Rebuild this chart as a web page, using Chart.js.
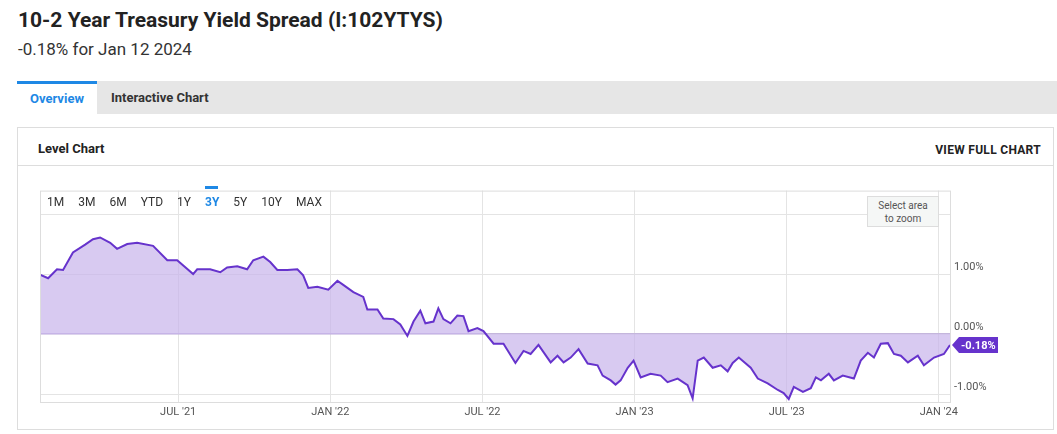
<!DOCTYPE html>
<html><head><meta charset="utf-8">
<script src="https://cdn.jsdelivr.net/npm/chart.js@4"></script>
<style>
body{margin:0;width:1057px;height:434px;font-family:Roboto,sans-serif;background:#fff;position:relative;overflow:hidden;color:#222}
.abs{position:absolute}
#title{left:18px;top:8px;font-size:21px;font-weight:bold;color:#222}
#sub{left:18px;top:39px;font-size:17px;color:#333}
#tabs{left:17px;top:81px;width:1040px;height:33px;background:#e6e6e6}
#ov{left:17px;top:81px;width:80px;height:33px;background:#fff;border-top:3px solid #1e88e5;box-sizing:border-box;color:#1e88e5;font-size:13px;font-weight:bold;text-align:center;line-height:29px}
#ic{left:111px;top:81px;font-size:13px;font-weight:bold;line-height:33px;color:#333}
#card{left:17px;top:127px;width:1037px;height:303px;border:1px solid #ddd;box-sizing:border-box}
#lc{left:38px;top:141px;font-size:13px;font-weight:bold}
#vf{right:16px;top:143px;font-size:12px;font-weight:bold;letter-spacing:.3px}
#sep{left:18px;top:165px;width:1035px;height:1px;background:#ddd}
#btns{left:47px;top:195px;font-size:12px;color:#333}
#btns span{margin-right:14px}
#zoom{left:867px;top:196px;width:72px;height:31px;background:#f5f7f6;border:1px solid #ddd;font-size:10px;color:#555;text-align:center;line-height:13px;padding-top:2px;box-sizing:border-box}
</style></head><body>
<div id="title" class="abs">10-2 Year Treasury Yield Spread (I:102YTYS)</div>
<div id="sub" class="abs">-0.18% for Jan 12 2024</div>
<div id="tabs" class="abs"></div>
<div id="ov" class="abs">Overview</div>
<div id="ic" class="abs">Interactive Chart</div>
<div id="card" class="abs"></div>
<div id="lc" class="abs">Level Chart</div>
<div id="vf" class="abs">VIEW FULL CHART</div>
<div id="sep" class="abs"></div>
<canvas id="c" class="abs" width="970" height="240" style="left:30px;top:180px;width:970px;height:240px"></canvas>
<div id="btns" class="abs"><span>1M</span><span>3M</span><span>6M</span><span>YTD</span><span>1Y</span><span style="color:#1e88e5;position:relative;font-weight:bold">3Y<i style="position:absolute;left:0;top:-9px;width:13px;height:3px;background:#1e88e5"></i></span><span>5Y</span><span>10Y</span><span>MAX</span></div>
<div id="zoom" class="abs">Select area<br>to zoom</div>
<script>
// x = months since Jan 1 2021
const months=[0.55,0.87,1.22,1.46,1.85,2.33,2.64,2.92,3.32,3.59,3.99,4.38,5.01,5.57,5.96,6.59,6.75,7.26,7.66,7.93,8.33,8.72,8.96,9.36,9.63,9.91,10.3,10.7,10.93,11.13,11.49,11.92,12.28,12.51,12.91,13.3,13.46,13.86,14.09,14.49,14.76,15.04,15.28,15.55,15.75,16.07,16.26,16.46,16.74,17.01,17.25,17.45,17.8,18.04,18.44,18.83,19.3,19.62,19.9,20.21,20.69,20.96,21.2,21.48,21.79,22.15,22.54,22.74,23.06,23.25,23.45,23.73,23.96,24.24,24.63,25.03,25.3,25.7,26.09,26.29,26.49,26.73,27.08,27.4,27.67,27.87,28.11,28.58,28.86,29.25,29.65,29.88,30.08,30.28,30.64,30.95,31.15,31.35,31.66,31.86,32.21,32.65,32.92,33.2,33.44,33.71,33.99,34.23,34.5,34.78,35.17,35.41,35.81,36.2,36.44];
const spread=[0.99,0.93,1.08,1.07,1.36,1.49,1.58,1.61,1.52,1.42,1.5,1.52,1.47,1.23,1.23,1.0,1.08,1.08,1.03,1.11,1.13,1.08,1.23,1.29,1.2,1.07,1.07,1.08,0.98,0.77,0.79,0.74,0.89,0.82,0.7,0.62,0.41,0.41,0.26,0.25,0.16,-0.03,0.21,0.39,0.18,0.21,0.43,0.25,0.18,0.31,0.3,0.05,0.1,0.05,-0.16,-0.16,-0.48,-0.28,-0.33,-0.18,-0.47,-0.36,-0.47,-0.39,-0.25,-0.49,-0.52,-0.69,-0.77,-0.84,-0.77,-0.56,-0.44,-0.72,-0.66,-0.69,-0.8,-0.74,-0.85,-1.07,-0.44,-0.39,-0.56,-0.52,-0.62,-0.48,-0.39,-0.56,-0.74,-0.82,-0.93,-0.98,-1.08,-0.88,-0.96,-0.9,-0.72,-0.77,-0.66,-0.77,-0.69,-0.74,-0.44,-0.31,-0.39,-0.16,-0.15,-0.33,-0.36,-0.47,-0.36,-0.52,-0.39,-0.33,-0.18];
const xTicks={6:"JUL '21",12:"JAN '22",18:"JUL '22",24:"JAN '23",30:"JUL '23",36:"JAN '24"};
const yTicks={1:"1.00%",0:"0.00%","-1":"-1.00%"};
const lastLabel="-0.18%";
const tag={id:'tag',afterDraw(ch){const c=ch.ctx,y=ch.scales.y.getPixelForValue(spread[spread.length-1]),x=ch.chartArea.right+2;
c.save();c.fillStyle='#6633cc';c.beginPath();c.moveTo(x,y);c.lineTo(x+7,y-8);c.lineTo(x+46,y-8);c.lineTo(x+46,y+8);c.lineTo(x+7,y+8);c.closePath();c.fill();
c.fillStyle='#fff';c.font='bold 11px Roboto';c.textBaseline='middle';c.fillText(lastLabel,x+9,y+1);
c.strokeStyle='#ddd';c.lineWidth=1;c.strokeRect(ch.chartArea.left+0.5,ch.chartArea.top+0.5,ch.chartArea.width,ch.chartArea.height);c.restore();}};
new Chart(document.getElementById('c'),{type:'line',
data:{datasets:[{data:months.map((m,i)=>({x:m,y:spread[i]})),borderColor:'#6633cc',borderWidth:2,pointRadius:0,tension:0,fill:{value:0},backgroundColor:'rgba(200,180,235,0.7)'}]},
options:{responsive:false,devicePixelRatio:1,animation:false,plugins:{legend:{display:false},tooltip:{enabled:false}},
layout:{padding:{left:10,top:6}},
scales:{x:{type:'linear',min:0.55,max:36.44,afterBuildTicks:a=>{a.ticks=Object.keys(xTicks).map(v=>({value:+v}))},
ticks:{callback:v=>xTicks[v]||'',color:'#555',font:{size:11,family:'Roboto'},maxRotation:0,autoSkip:false,padding:4},
grid:{color:'#e4e4e4',drawTicks:false},border:{display:false},afterFit:a=>{a.height=18}},
y:{position:'right',min:-1.13,max:2.39,afterBuildTicks:a=>{a.ticks=[-1,0,1,2].map(v=>({value:v}))},
ticks:{callback:v=>yTicks[v]||'',color:'#555',font:{size:11,family:'Roboto'},padding:4,labelOffset:-7},
grid:{color:c=>c.tick.value===0?'#c4b6dc':'#e4e4e4',lineWidth:c=>c.tick.value===0?1.5:1,drawTicks:false},border:{display:false},afterFit:a=>{a.width=50}}}},
plugins:[tag]});
</script></body></html>
